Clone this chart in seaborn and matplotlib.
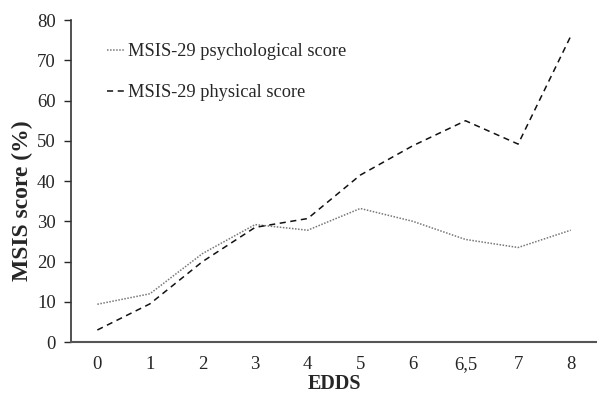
import pandas as pd
import matplotlib.pyplot as plt
import seaborn as sns

# valores
edds = ["0", "1", "2", "3", "4", "5", "6", "6,5", "7", "8"]
psicologico = [9.4, 12.0, 22.0, 29.2, 27.8, 33.2, 30.0, 25.5, 23.5, 27.8]
fisico = [3.0, 9.5, 20.0, 28.5, 30.7, 41.5, 48.8, 55.0, 49.2, 76.0]

df = pd.DataFrame({
    "EDDS": edds * 2,
    "score": psicologico + fisico,
    "serie": ["MSIS-29 psychological score"] * len(edds) + ["MSIS-29 physical score"] * len(edds),
})

sns.set_style("ticks")
plt.rcParams["font.family"] = ["Liberation Serif", "DejaVu Serif"]

fig = plt.figure(figsize=(5.97, 3.95), dpi=100)
ax = fig.add_axes([0.119, 0.134, 0.881, 0.815])

sns.lineplot(data=df, x="EDDS", y="score", hue="serie", style="serie",
             palette=["#777777", "#111111"],
             dashes=[(1, 1), (4, 3)], linewidth=1.1, ax=ax, sort=False)

ax.set_xlim(-0.5, 9.5)
ax.set_ylim(0, 80)
ax.set_yticks(range(0, 81, 10))
ax.tick_params(axis="x", length=0, pad=10, labelsize=13.5)
ax.tick_params(axis="y", length=5, width=1, direction="out", labelsize=13.5, pad=6)
for s in ["top", "right"]:
    ax.spines[s].set_visible(False)
ax.spines["left"].set_color("#333333")
ax.spines["bottom"].set_color("#555555")
ax.spines["left"].set_linewidth(1.2)
ax.spines["bottom"].set_linewidth(1.5)

ax.set_xlabel("EDDS", fontsize=14.5, fontweight="bold", labelpad=1)
ax.set_ylabel("MSIS score (%)", fontsize=17, fontweight="bold")
ax.yaxis.set_label_coords(-0.072, 0.44)

leg = ax.legend(loc="upper left", bbox_to_anchor=(0.037, 0.98), frameon=False,
                fontsize=13.2, handlelength=0.95, handletextpad=0.2, labelspacing=1.3)

plt.savefig("out.png", dpi=100)
